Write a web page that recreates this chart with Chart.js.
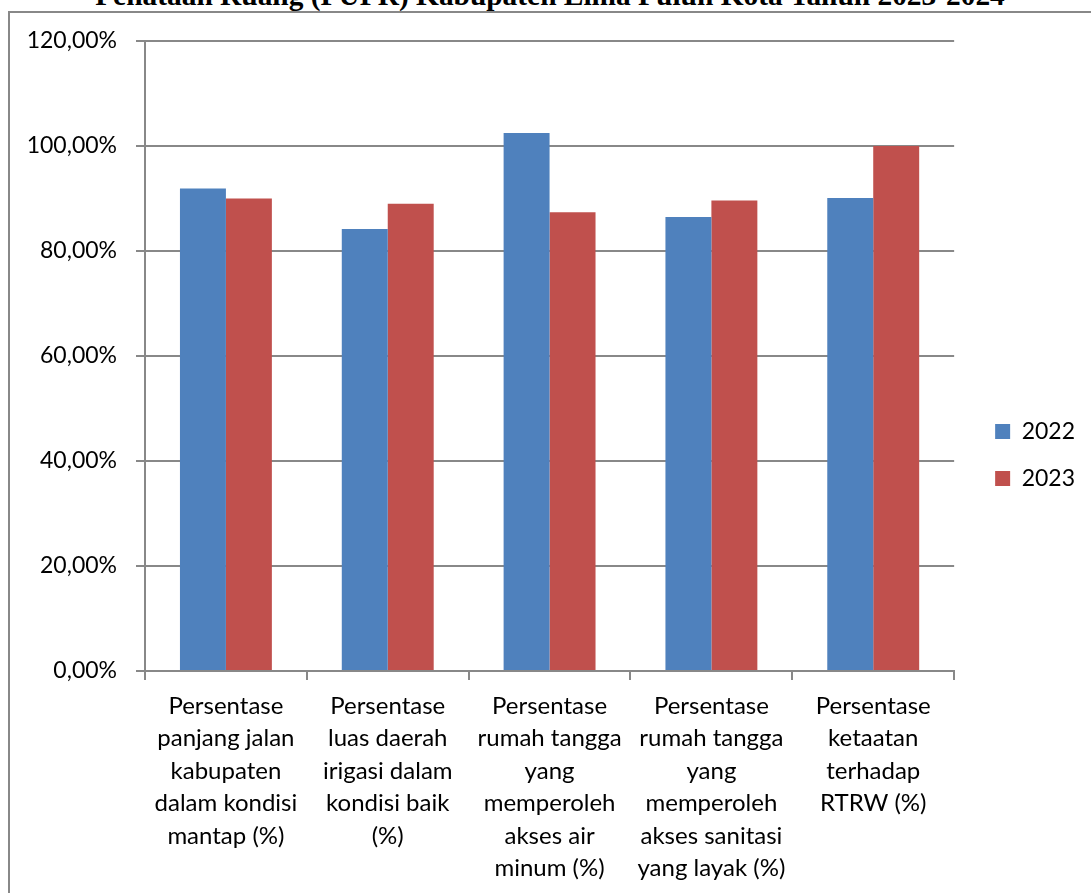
<!DOCTYPE html>
<html>
<head>
<meta charset="utf-8">
<script src="https://cdn.jsdelivr.net/npm/chart.js@4/dist/chart.umd.min.js"></script>
<style>
  html, body { margin: 0; padding: 0; background: #fff; overflow: hidden; }
  body { width: 1091px; height: 893px; position: relative; }
  #frame {
    position: absolute; left: 8px; top: 11px; width: 1200px; height: 1000px;
    border: 2px solid #888; box-sizing: border-box;
  }
  #title {
    position: absolute; left: 0; top: -19px; width: 1100px; text-align: center;
    font: bold 29.4px "Liberation Serif", "Times New Roman", serif; line-height: 29px;
    color: #000; white-space: nowrap;
  }
  #chart { position: absolute; left: 0; top: 0; }
</style>
</head>
<body>
<div id="frame"></div>
<div id="title">Penataan Ruang (PUPR) Kabupaten Lima Puluh Kota Tahun 2023-2024</div>
<canvas id="chart" width="1091" height="893"></canvas>
<script>
// Indicator categories (wrapped into lines as shown under the axis)
const categories = [
  ["Persentase", "panjang jalan", "kabupaten", "dalam kondisi", "mantap (%)"],
  ["Persentase", "luas daerah", "irigasi dalam", "kondisi baik", "(%)"],
  ["Persentase", "rumah tangga", "yang", "memperoleh", "akses air", "minum (%)"],
  ["Persentase", "rumah tangga", "yang", "memperoleh", "akses sanitasi", "yang layak (%)"],
  ["Persentase", "ketaatan", "terhadap", "RTRW (%)"]
];

const seriesNames = ["2022", "2023"];
const values2022 = [91.9, 84.2, 102.5, 86.5, 90.1];
const values2023 = [90.0, 89.0, 87.4, 89.6, 100.0];

const yMin = 0;
const yMax = 120;
const yStep = 20;

const fontFamily = 'Lato, "Open Sans", "Noto Sans", sans-serif';
const gridColor = '#888888';

// Moves the side legend a little right of the plot edge and up to mid-height
const legendNudge = {
  id: 'legendNudge',
  afterLayout(chart) {
    const lg = chart.legend;
    if (lg) {
      lg.left += 17; lg.right += 17;
      lg.top -= 12; lg.bottom -= 12;
    }
  }
};

new Chart(document.getElementById('chart'), {
  type: 'bar',
  data: {
    labels: categories,
    datasets: [
      { label: seriesNames[0], data: values2022, backgroundColor: '#4F81BD' },
      { label: seriesNames[1], data: values2023, backgroundColor: '#C0504D' }
    ]
  },
  options: {
    responsive: false,
    animation: false,
    devicePixelRatio: 1,
    layout: { padding: { top: 41, bottom: 0, left: 0, right: 23 } },
    datasets: { bar: { categoryPercentage: 0.568, barPercentage: 1.0 } },
    scales: {
      x: {
        offset: true,
        grid: { offset: true, drawOnChartArea: false, drawTicks: true, tickLength: 9, color: gridColor, lineWidth: 2 },
        border: { display: true, color: gridColor, width: 2 },
        ticks: {
          autoSkip: false, maxRotation: 0, minRotation: 0, padding: 10,
          color: '#000', font: { family: fontFamily, size: 24, lineHeight: 1.35 }
        },
        afterFit(scale) { scale.height = 893 - 671; }
      },
      y: {
        min: yMin, max: yMax,
        grid: { color: gridColor, lineWidth: 2, tickLength: 9 },
        border: { display: true, color: gridColor, width: 2 },
        ticks: {
          stepSize: yStep, padding: 19, color: '#000',
          font: { family: fontFamily, size: 23 },
          callback: v => v.toFixed(2).replace('.', ',') + '%'
        },
        afterFit(scale) { scale.width = 145; }
      }
    },
    plugins: {
      legend: {
        position: 'right',
        align: 'center',
        labels: {
          boxWidth: 15, boxHeight: 15, padding: 24, color: '#000',
          font: { family: fontFamily, size: 23 }
        }
      },
      tooltip: { enabled: false }
    }
  },
  plugins: [legendNudge]
});
</script>
</body>
</html>
